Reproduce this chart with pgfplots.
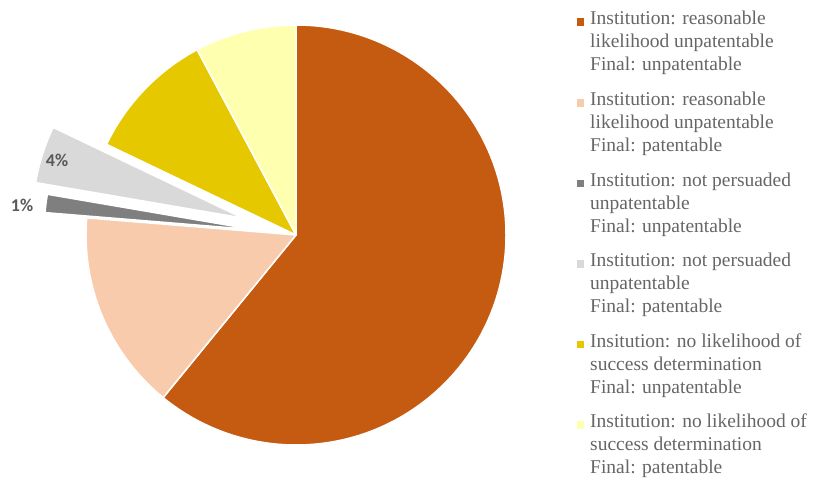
\documentclass[border=0pt]{standalone}
\usepackage{fontspec}
\setmainfont{Liberation Serif}
\newfontfamily\calfont{Carlito}
\usepackage{pgfplots}
\usepackage{pgfplotstable}
\pgfplotsset{compat=1.18}
\definecolor{sc0}{HTML}{C55A11}
\definecolor{sc1}{HTML}{F8CBAD}
\definecolor{sc2}{HTML}{7F7F7F}
\definecolor{sc3}{HTML}{D9D9D9}
\definecolor{sc4}{HTML}{E6C800}
\definecolor{sc5}{HTML}{FFFFB0}
\definecolor{legtext}{HTML}{666666}
% value = share in percent, explode = offset of the slice from the centre
\pgfplotstableread{
value explode
60.9 0
15.4 0
1.4 42
4.4 56
10.1 0
7.8 0
}\piedata
\begin{document}
\begin{tikzpicture}
\begin{axis}[width=816pt, height=481pt, scale only axis,
  xmin=0, xmax=816, ymin=0, ymax=481, hide axis, clip=false]
\xdef\cum{90}
\pgfplotsforeachungrouped \i in {0,...,5}{%
  \pgfplotstablegetelem{\i}{value}\of\piedata \let\v\pgfplotsretval
  \pgfplotstablegetelem{\i}{explode}\of\piedata \let\e\pgfplotsretval
  \pgfmathsetmacro\endang{\cum-3.6*\v}%
  \pgfmathsetmacro\midang{(\cum+\endang)/2}%
  \pgfmathsetmacro\ox{296+\e*cos(\midang)}%
  \pgfmathsetmacro\oy{246+\e*sin(\midang)}%
  \edef\slicecmd{\noexpand\filldraw[fill=sc\i, draw=white, line width=1.5pt, line join=round] (axis cs:\ox,\oy) -- ++(\cum:210pt) arc[start angle=\cum, end angle=\endang, radius=210pt] -- cycle;}%
  \slicecmd
  \xdef\cum{\endang}%
}
\node[font=\calfont\bfseries\fontsize{18}{18}\selectfont, text=black!65] at (axis cs:57,321) {4\%};
\node[font=\calfont\bfseries\fontsize{18}{18}\selectfont, text=black!65] at (axis cs:22,276) {1\%};
% legend markers
\addplot[sc0, only marks, mark=square*, mark size=3.3pt] coordinates {(580,459)};
\addplot[sc1, only marks, mark=square*, mark size=3.3pt] coordinates {(580,378.4)};
\addplot[sc2, only marks, mark=square*, mark size=3.3pt] coordinates {(580,297.8)};
\addplot[sc3, only marks, mark=square*, mark size=3.3pt] coordinates {(580,217.2)};
\addplot[sc4, only marks, mark=square*, mark size=3.3pt] coordinates {(580,136.6)};
\addplot[sc5, only marks, mark=square*, mark size=3.3pt] coordinates {(580,56)};
\tikzset{lt/.style={anchor=west, text=legtext, font=\fontsize{19.5}{23}\selectfont, text height=1.5ex, text depth=.25ex, inner sep=0pt}}
\node[lt] at (axis cs:590,459) {Institution: reasonable};
\node[lt] at (axis cs:590,436) {likelihood unpatentable};
\node[lt] at (axis cs:590,413) {Final: unpatentable};
\node[lt] at (axis cs:590,378.4) {Institution: reasonable};
\node[lt] at (axis cs:590,355.4) {likelihood unpatentable};
\node[lt] at (axis cs:590,332.4) {Final: patentable};
\node[lt] at (axis cs:590,297.8) {Institution: not persuaded};
\node[lt] at (axis cs:590,274.8) {unpatentable};
\node[lt] at (axis cs:590,251.8) {Final: unpatentable};
\node[lt] at (axis cs:590,217.2) {Institution: not persuaded};
\node[lt] at (axis cs:590,194.2) {unpatentable};
\node[lt] at (axis cs:590,171.2) {Final: patentable};
\node[lt] at (axis cs:590,136.6) {Insitution: no likelihood of};
\node[lt] at (axis cs:590,113.6) {success determination};
\node[lt] at (axis cs:590,90.6) {Final: unpatentable};
\node[lt] at (axis cs:590,56) {Institution: no likelihood of};
\node[lt] at (axis cs:590,33) {success determination};
\node[lt] at (axis cs:590,10) {Final: patentable};
\end{axis}
\pgfresetboundingbox
\useasboundingbox (current axis.south west) rectangle (current axis.north east);
\end{tikzpicture}
\end{document}
